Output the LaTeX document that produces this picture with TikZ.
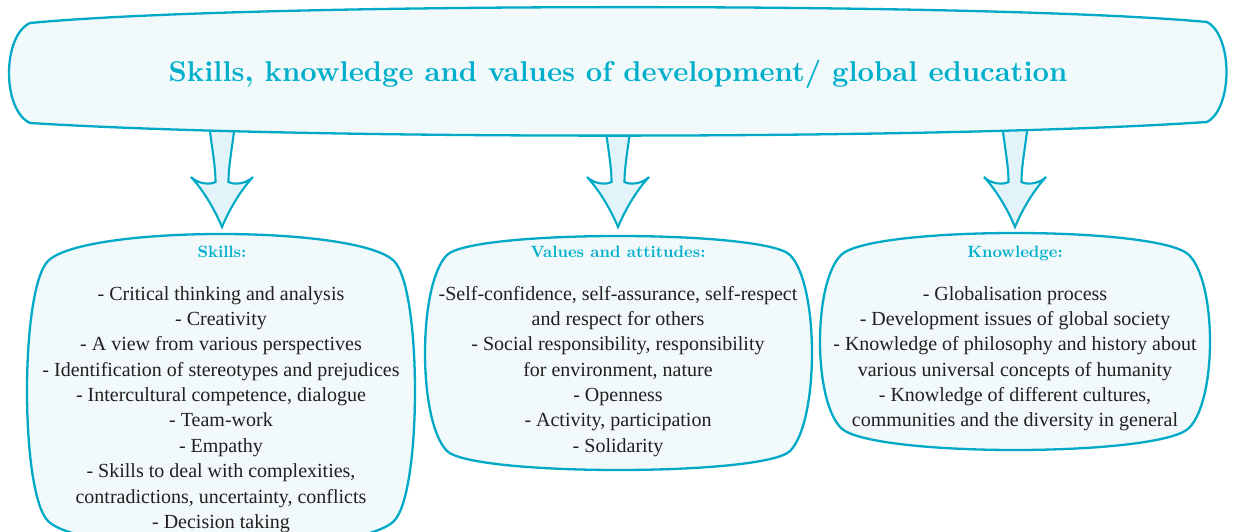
\documentclass[tikz,border=0pt]{standalone}
\usepackage{fontspec}
\setmainfont{Liberation Serif}
\newfontfamily\headfont{lmroman10-bold.otf}

\definecolor{edge}{HTML}{00A9C6}
\definecolor{headc}{HTML}{00AFCB}
\definecolor{boxfill}{HTML}{F1F9FB}
\definecolor{arrowfill}{HTML}{E2F4F9}
\definecolor{ink}{HTML}{231F20}

\tikzset{
  outline/.style={draw=edge, line width=2.3pt, fill=boxfill, line join=round},
  arrowshape/.style={draw=edge, line width=2.1pt, fill=arrowfill, line join=miter},
  titletext/.style={font={\headfont\fontsize{28.6}{34}\selectfont}, text=headc, inner sep=0pt},
  headtext/.style={font={\headfont\fontsize{16.4}{20}\selectfont}, text=headc, inner sep=0pt, anchor=base},
  bodytext/.style={font={\fontsize{20}{25.35}\selectfont}, text=ink, align=center, inner sep=0pt, anchor=north},
}

% Rounded box with slightly bulging sides: style, left, top, right, bottom, corner dx, corner dy
\newcommand\blob[7]{%
  \draw[#1] ({#2+#6},{#3+#7})
    .. controls ({#2+#6+4*#7/3},{#3-#7/3}) and ({#4-#6-4*#7/3},{#3-#7/3}) .. ({#4-#6},{#3+#7})
    .. controls ({#4+#6/3},{#3+#7+4*#6/3}) and ({#4+#6/3},{#5-#7-4*#6/3}) .. ({#4-#6},{#5-#7})
    .. controls ({#4-#6-4*#7/3},{#5+#7/3}) and ({#2+#6+4*#7/3},{#5+#7/3}) .. ({#2+#6},{#5-#7})
    .. controls ({#2-#6/3},{#5-#7-4*#6/3}) and ({#2-#6/3},{#3+#7+4*#6/3}) .. cycle;}

% Broad downward arrow centred on a named coordinate
\newcommand\fatarrow[1]{%
  \begin{scope}[shift={(#1)}]
    \draw[arrowshape] (-14.5,112)
      .. controls (-10,150) and (-6.5,165) .. (-6.5,182)
      .. controls (-12,185) and (-24,184) .. (-31,177)
      .. controls (-19,190) and (-8,208) .. (0,227)
      .. controls (8,208) and (19,190) .. (31,177)
      .. controls (24,184) and (12,185) .. (6.5,182)
      .. controls (6.5,165) and (10,150) .. (14.5,112) -- cycle;
  \end{scope}}

\begin{document}
\begin{tikzpicture}[x=1pt, y=-1pt]
  \useasboundingbox (0,0) rectangle (1237,532);

  % column positions
  \coordinate (colS) at (222,0);
  \coordinate (colV) at (618,0);
  \coordinate (colK) at (1015,0);

  % arrows from the headline to the three columns
  \fatarrow{colS}
  \fatarrow{colV}
  \fatarrow{colK}

  % headline banner
  \draw[outline] (30,23)
    .. controls (250,2) and (990,2) .. (1207,22)
    .. controls (1233,36) and (1233,108) .. (1207,122)
    .. controls (940,140) and (300,140) .. (30,123)
    .. controls (2,110) and (2,36) .. cycle;
  \node[titletext, anchor=base] (title) at (618,82)
    {Skills, knowledge and values of development/ global education};

  % three columns
  \blob{outline}{27}{234}{415}{548}{21}{27}
  \blob{outline}{425}{236}{812}{470}{22}{19}
  \blob{outline}{820}{233}{1210}{450}{21}{22}

  \node[headtext] (hs) at (colS |- 0,257) {Skills:};
  \node[headtext] (hv) at (colV |- 0,257) {Values and attitudes:};
  \node[headtext] (hk) at (colK |- 0,257) {Knowledge:};

  \node[bodytext] (bs) at (221,282.3) {\strut - Critical thinking and analysis\\
    - Creativity\\
    - A view from various perspectives\\
    - Identification of stereotypes and prejudices\\
    - Intercultural competence, dialogue\\
    - Team-work\\
    - Empathy\\
    - Skills to deal with complexities,\\
    contradictions, uncertainty, conflicts\\
    - Decision taking};

  \node[bodytext] (bv) at (618,282.3) {\strut -Self-confidence, self-assurance, self-respect\\
    and respect for others\\
    - Social responsibility, responsibility\\
    for environment, nature\\
    - Openness\\
    - Activity, participation\\
    - Solidarity};

  \node[bodytext] (bk) at (1015,282.3) {\strut - Globalisation process\\
    - Development issues of global society\\
    - Knowledge of philosophy and history about\\
    various universal concepts of humanity\\
    - Knowledge of different cultures,\\
    communities and the diversity in general};
\end{tikzpicture}
\end{document}
